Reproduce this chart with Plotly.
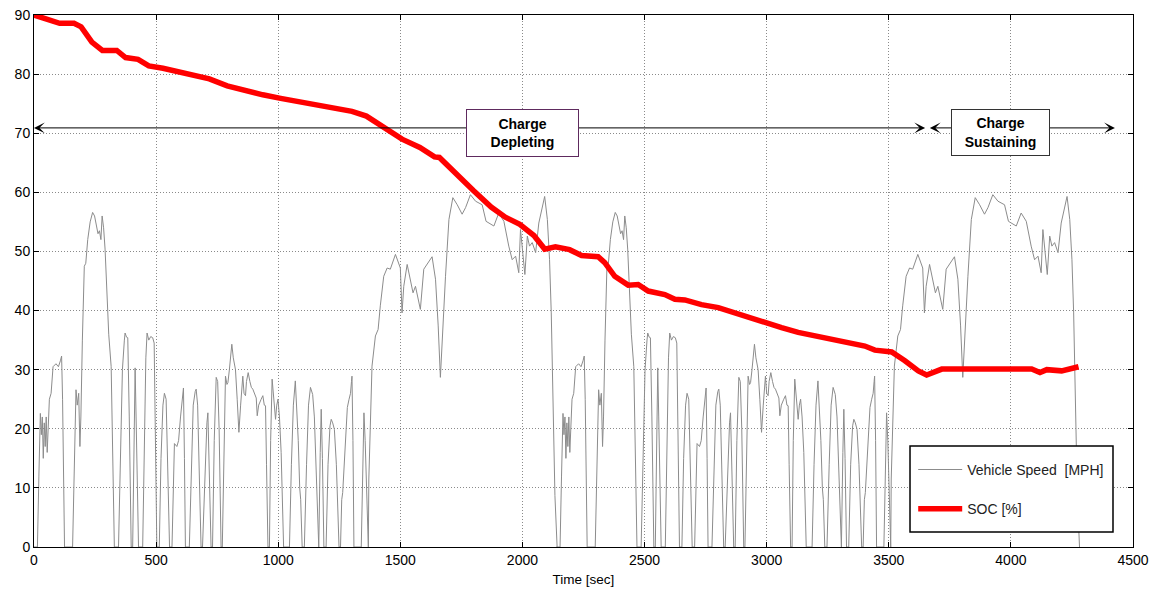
import plotly.graph_objects as go

# ---- Drive cycle segments (time in s relative to segment start, speed in MPH)
udds_t = [0, 14, 20, 26, 30, 34, 38, 42, 46, 50, 54, 58, 63, 70, 78, 90, 100, 108, 113, 117, 122, 125,
          158, 165, 172, 177, 183, 188, 192, 198, 206, 212, 220, 230, 240, 248, 256, 262, 268, 274, 279,
          285, 291, 298, 306, 316, 322, 329, 346, 354, 362, 370, 373, 379, 384, 390, 398, 404, 410, 414,
          418, 424, 428, 445, 452, 458, 463, 470, 478, 486, 492, 497, 503, 513, 520, 528, 534, 541, 548,
          555, 565, 570, 575, 585, 592, 600, 606, 612, 616, 620, 636, 645, 652, 660, 664, 670, 677, 684,
          690, 700, 708, 712, 718, 725, 731, 738, 746, 752, 758, 766, 771, 778, 784, 790, 794, 800, 806,
          810, 816, 825, 832, 839, 846, 855, 860, 866, 870, 877, 884, 890, 896, 904, 910, 914, 920, 930,
          937, 943, 948, 952, 958, 964, 969, 975, 980, 985, 989, 994, 999, 1005, 1012, 1022, 1046, 1054,
          1062, 1070, 1076, 1082, 1088, 1092, 1098, 1107, 1116, 1124, 1132, 1141, 1148, 1156, 1163, 1166,
          1172, 1176, 1181, 1187, 1196, 1204, 1212, 1217, 1223, 1230, 1238, 1249, 1255, 1260, 1264, 1270,
          1276, 1283, 1290, 1296, 1300, 1302, 1306, 1310, 1340, 1346, 1351, 1356, 1362, 1367]
udds_v = [0, 0, 12, 22.6, 19, 22, 15, 21, 17, 22, 16, 22, 25, 26, 30.5, 31, 30.5, 31.5, 32.3, 25, 8, 0,
          0, 14, 26.6, 24, 26, 17, 22, 35, 47.5, 48, 52, 55, 56.6, 56, 54, 53, 53.5, 52, 56,
          54, 50.4, 44, 36, 30.5, 18, 0, 0, 15, 30, 35, 36.2, 35.5, 35.4, 22, 0, 0, 25, 30.3,
          22, 8, 0, 0, 20, 32, 36.2, 35, 35.6, 35.4, 34.5, 20, 0, 0, 15, 24, 26, 25, 14,
          0, 0, 10, 17.5, 17, 18, 22, 24, 26.9, 15, 0, 0, 15, 24, 26.3, 26.7, 24, 12, 0,
          0, 14, 21, 22.7, 14, 0, 0, 18, 28.7, 28, 20, 0, 0, 20, 28.9, 27.5, 27.8, 30, 33,
          34.3, 32, 30, 25, 19.4, 24, 28.9, 26, 25.6, 28, 29.5, 28, 27, 26.7, 25.6, 25.2, 22.2, 24, 25,
          25.6, 24, 23.9, 14, 0, 0, 18, 28.4, 25.6, 24, 21.6, 24, 25, 22, 16, 0, 0, 14,
          24, 28.1, 24, 18, 10, 8, 0, 0, 14, 24, 27, 25.8, 22, 12, 0, 0,
          16, 23.3, 15, 0, 0, 14, 20.5, 21.6, 21, 19.9, 14, 0, 0, 8, 9.2, 14,
          18, 23.6, 25, 26, 28, 28.9, 18, 0, 0, 16, 22.7, 18, 8, 0]

hwfet_t = [0, 2, 8, 15, 29, 40, 49, 63, 77, 90, 111, 122, 131, 138, 145, 159, 172, 183, 193, 202, 213,
           227, 241, 261, 275, 286, 295, 305, 316, 330, 346, 364, 384, 398, 418, 439, 466, 482, 514, 534,
           555, 575, 589, 603, 616, 623, 630, 641, 651, 660, 671, 685, 698, 712, 722, 733, 742, 749, 756,
           764, 773]
hwfet_v = [0, 11.5, 22.7, 30.6, 35.7, 36.8, 40.8, 45.8, 47.2, 47, 49.5, 48.1, 47.2, 39.6, 44.1, 47.8, 45.3,
           43, 44.1, 42.5, 40.2, 47, 47.8, 49.1, 45.3, 37.4, 28.7, 37.4, 45.8, 55.4, 59.1, 57.9, 56.3, 57.4,
           59.6, 58.5, 57.9, 55.1, 54.3, 56.5, 55.1, 50.9, 48.6, 49.2, 46.4, 53.7, 50.6, 46.1, 52.6, 50.9,
           51.5, 49.8, 54.8, 57.7, 59.3, 55.4, 48.6, 39.6, 22.7, 8.7, 0]

# segment order and start times (s)
segments = ["UDDS", "HWFET", "UDDS", "HWFET"]
segment_start = [0, 1369, 2140, 3508]

# ---- State of charge
soc_t = [0, 47, 105, 164, 193, 237, 280, 339, 375, 426, 470, 528, 572, 645, 718, 791, 864, 937, 1010,
         1083, 1156, 1229, 1302, 1361, 1434, 1507, 1580, 1640, 1660, 1726, 1799, 1872, 1930, 1989, 2047,
         2091, 2135, 2193, 2242, 2310, 2337, 2378, 2433, 2474, 2515, 2583, 2624, 2665, 2733, 2802, 2870,
         2931, 2993, 3061, 3129, 3198, 3266, 3334, 3402, 3443, 3512, 3566, 3621, 3655, 3676, 3717, 3812,
         4085, 4119, 4147, 4208, 4249, 4277]
soc_v = [90, 89.4, 88.6, 88.6, 88.0, 85.4, 84.0, 84.0, 82.8, 82.5, 81.4, 81.0, 80.6, 79.9, 79.2, 78.0,
         77.2, 76.5, 75.9, 75.4, 74.8, 74.2, 73.7, 72.9, 71.0, 69.0, 67.6, 66.0, 65.9, 63.1, 60.3, 57.5,
         55.8, 54.6, 52.7, 50.4, 50.8, 50.3, 49.3, 49.1, 48.1, 45.8, 44.3, 44.4, 43.3, 42.7, 41.9, 41.8,
         41.0, 40.5, 39.6, 38.6, 37.9, 37.1, 36.3, 35.7, 35.0, 34.6, 34.0, 33.3, 33.0, 31.5, 29.8, 29.1,
         29.5, 30.1, 30.1, 30.1, 29.5, 30.0, 29.8, 30.1, 30.5]

# ---- assemble speed trace
speed_t, speed_v = [], []
for name, start in zip(segments, segment_start):
    tt, vv = (udds_t, udds_v) if name == "UDDS" else (hwfet_t, hwfet_v)
    speed_t += [start + t for t in tt]
    speed_v += list(vv)

FONT = "Arial, 'Liberation Sans', Helvetica, sans-serif"

fig = go.Figure()
fig.add_trace(go.Scatter(x=speed_t, y=speed_v, mode="lines",
                         name="Vehicle Speed\u00a0\u00a0[MPH]", legendgroup="a",
                         line=dict(color="#8c8c8c", width=1)))
fig.add_trace(go.Scatter(x=soc_t, y=soc_v, mode="lines", name="SOC [%]", legendgroup="b",
                         line=dict(color="#ff0000", width=5.5)))

axis_common = dict(showline=True, linecolor="black", linewidth=1, mirror="ticks",
                   ticks="inside", ticklen=5, tickcolor="black", automargin=False,
                   showgrid=True, gridcolor="#8a8a8a", griddash="1px,2px", gridwidth=1,
                   zeroline=False, tickfont=dict(size=14, color="black", family=FONT))

fig.update_xaxes(range=[0, 4500], tick0=0, dtick=500,
                 title=dict(text="Time [sec]", font=dict(size=13.5, color="black", family=FONT), standoff=7),
                 **axis_common)
fig.update_yaxes(range=[0, 90], tick0=0, dtick=10, **axis_common)

arrow_y = 70.9
annotations = [
    dict(x=0, y=arrow_y, ax=3655, ay=arrow_y, xref="x", yref="y", axref="x", ayref="y", text="",
         showarrow=True, arrowhead=3, startarrowhead=3, arrowside="end+start",
         arrowsize=1.8, startarrowsize=1.8, arrowwidth=1, arrowcolor="black"),
    dict(x=4426, y=arrow_y, ax=3662, ay=arrow_y, xref="x", yref="y", axref="x", ayref="y", text="",
         showarrow=True, arrowhead=3, startarrowhead=3, arrowside="end+start",
         arrowsize=1.8, startarrowsize=1.8, arrowwidth=1, arrowcolor="black"),
    dict(x=2002, y=70.1, xref="x", yref="y", text="<b>Charge<br>Depleting</b>", showarrow=False,
         bgcolor="white", bordercolor="#5e2a5e", borderwidth=1, borderpad=2, width=107, height=42,
         font=dict(size=14, color="black", family=FONT)),
    dict(x=3957, y=70.1, xref="x", yref="y", text="<b>Charge<br>Sustaining</b>", showarrow=False,
         bgcolor="white", bordercolor="#333333", borderwidth=1, borderpad=2, width=93, height=41,
         font=dict(size=14, color="black", family=FONT)),
]

fig.update_layout(
    width=1156, height=589,
    margin=dict(l=34, r=23, t=15, b=42, autoexpand=False),
    paper_bgcolor="white", plot_bgcolor="white",
    font=dict(family=FONT, size=14, color="black"),
    annotations=annotations,
    shapes=[dict(type="rect", xref="paper", yref="paper", x0=0.7971, x1=0.9818, y0=0.0282, y1=0.1898,
                 line=dict(color="black", width=1.5), fillcolor="white", layer="above")],
    showlegend=True,
    legend=dict(x=0.800, y=0.175, xanchor="left", yanchor="top", bgcolor="rgba(0,0,0,0)",
                borderwidth=0, traceorder="grouped", tracegroupgap=18, itemwidth=44,
                font=dict(size=14, color="#222222", family=FONT)),
)

fig.write_html("out.html")
